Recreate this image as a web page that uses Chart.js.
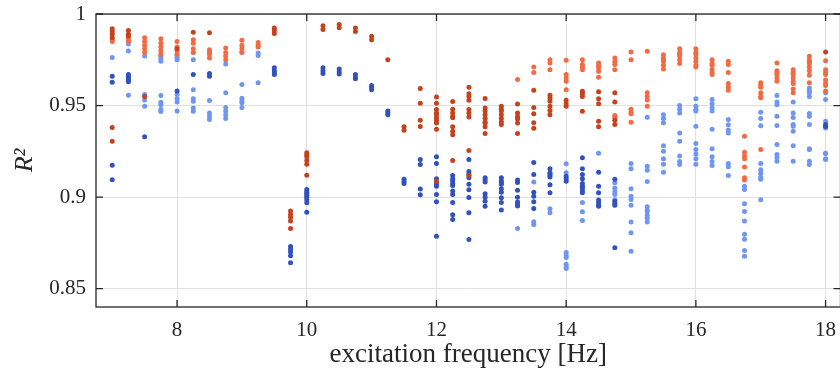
<!DOCTYPE html>
<html>
<head>
<meta charset="utf-8">
<script src="https://cdn.jsdelivr.net/npm/chart.js@4.4.0/dist/chart.umd.min.js"></script>
<style>
  html, body { margin: 0; padding: 0; background: #fff; overflow: hidden; }
  #wrap { width: 843px; height: 371px; }
</style>
</head>
<body>
<div id="wrap"><canvas id="chart"></canvas></div>
<script>
// tick labels
const xTicks = [8, 10, 12, 14, 16, 18];
const yTicks = [0.85, 0.9, 0.95, 1];

// each row: [frequency in Hz, R2 values...]
const darkRed = [
  [7, 0.992, 0.9905, 0.989, 0.987, 0.938, 0.9305],
  [7.25, 0.991, 0.989, 0.988],
  [7.5, 0.955],
  [8, 0.981],
  [8.25, 0.990],
  [8.5, 0.9898],
  [9.5, 0.9924, 0.991, 0.9893],
  [9.75, 0.8924, 0.8905, 0.889, 0.887, 0.8828],
  [10, 0.9242, 0.923, 0.922, 0.920, 0.918, 0.912],
  [10.25, 0.9936, 0.9915],
  [10.5, 0.9942, 0.9925],
  [10.75, 0.9924, 0.9905],
  [11, 0.9878, 0.986],
  [11.25, 0.975],
  [11.5, 0.9384, 0.9365],
  [11.75, 0.9593, 0.9513, 0.942, 0.9385],
  [12, 0.9547, 0.9513, 0.9478, 0.946, 0.945, 0.9433, 0.942, 0.9405, 0.937, 0.9087],
  [12.25, 0.9522, 0.948, 0.946, 0.944, 0.9433, 0.9384, 0.936, 0.934, 0.92],
  [12.5, 0.96, 0.9565, 0.955, 0.9529, 0.9478, 0.946, 0.9438, 0.9254, 0.9118],
  [12.75, 0.9538, 0.9487, 0.947, 0.945, 0.943, 0.941, 0.9405, 0.9384, 0.9347],
  [13, 0.9496, 0.948, 0.947, 0.945, 0.943, 0.941, 0.9396],
  [13.25, 0.9509, 0.946, 0.944, 0.9427, 0.9405, 0.9347],
  [13.5, 0.9584, 0.949, 0.9455, 0.9406, 0.9376],
  [13.75, 0.9556, 0.954, 0.9523, 0.9496, 0.9473, 0.945],
  [14, 0.9529, 0.951, 0.9496],
  [14.25, 0.9578, 0.9565, 0.955, 0.9469],
  [14.5, 0.9576, 0.9537, 0.951, 0.9414, 0.9384],
  [14.75, 0.957, 0.952, 0.942, 0.9396],
  [18, 0.9793]
];

const orange = [
  [7, 0.986, 0.985],
  [7.25, 0.987, 0.9855, 0.985],
  [7.5, 0.987, 0.985, 0.983, 0.981, 0.979],
  [7.75, 0.9865, 0.984, 0.982, 0.980, 0.978],
  [8, 0.985, 0.982, 0.980, 0.978],
  [8.25, 0.986, 0.984, 0.981, 0.979],
  [8.5, 0.9805, 0.979, 0.978, 0.976],
  [8.75, 0.9815, 0.979, 0.977, 0.975],
  [9, 0.9856, 0.983, 0.981, 0.979],
  [9.25, 0.9845, 0.983, 0.982],
  [13.25, 0.9643],
  [13.5, 0.971, 0.968],
  [13.75, 0.975, 0.9733, 0.9696],
  [14, 0.9747, 0.967, 0.965, 0.9633, 0.9587],
  [14.25, 0.975, 0.9724, 0.971, 0.9696],
  [14.5, 0.9733, 0.972, 0.9706, 0.9687, 0.9654],
  [14.75, 0.976, 0.974, 0.9724, 0.9696, 0.9446, 0.9435],
  [15, 0.9793, 0.975, 0.948, 0.9465, 0.9455, 0.9409],
  [15.25, 0.9796, 0.957, 0.955, 0.953, 0.9496],
  [15.5, 0.9778, 0.976, 0.975, 0.974, 0.972, 0.970],
  [15.75, 0.981, 0.979, 0.978, 0.977, 0.975, 0.973],
  [16, 0.981, 0.979, 0.978, 0.976, 0.974, 0.972, 0.971],
  [16.25, 0.975, 0.973, 0.972, 0.9697, 0.968, 0.967],
  [16.5, 0.9742, 0.9724, 0.968, 0.962, 0.960, 0.9584],
  [16.75, 0.9333, 0.9245, 0.9224, 0.921, 0.9164, 0.9106, 0.9093],
  [17, 0.9624, 0.961, 0.960, 0.957, 0.955, 0.9542, 0.926],
  [17.25, 0.9733, 0.969, 0.968, 0.967, 0.965, 0.9633],
  [17.5, 0.9696, 0.968, 0.967, 0.965, 0.963, 0.962, 0.959, 0.957],
  [17.75, 0.9769, 0.975, 0.974, 0.973, 0.971, 0.969, 0.9665, 0.9624],
  [18, 0.9745, 0.9696, 0.968, 0.967, 0.964, 0.962, 0.961, 0.958]
];

const darkBlue = [
  [7, 0.966, 0.9627, 0.9174, 0.9095],
  [7.25, 0.967, 0.966, 0.965, 0.964, 0.963],
  [7.5, 0.933],
  [8, 0.958],
  [8.25, 0.967],
  [8.5, 0.9675, 0.966],
  [9.5, 0.9706, 0.969, 0.968, 0.967],
  [9.75, 0.873, 0.8715, 0.870, 0.868, 0.8642],
  [10, 0.9042, 0.903, 0.902, 0.901, 0.900, 0.8985, 0.8969, 0.8918],
  [10.25, 0.9706, 0.969, 0.9675],
  [10.5, 0.970, 0.9685, 0.9673],
  [10.75, 0.967, 0.9655, 0.9646],
  [11, 0.961, 0.9598, 0.9587],
  [11.25, 0.947, 0.946, 0.945],
  [11.5, 0.9097, 0.9085, 0.9075],
  [11.75, 0.9206, 0.9178, 0.9044, 0.9013],
  [12, 0.922, 0.9184, 0.910, 0.908, 0.907, 0.906, 0.9015, 0.8975, 0.8787],
  [12.25, 0.9118, 0.910, 0.909, 0.9075, 0.9064, 0.9033, 0.9015, 0.8971, 0.8904, 0.8878],
  [12.5, 0.9206, 0.914, 0.9125, 0.9106, 0.907, 0.904, 0.8998, 0.8915, 0.8768],
  [12.75, 0.9106, 0.9095, 0.9082, 0.9018, 0.900, 0.8978, 0.895],
  [13, 0.9106, 0.909, 0.908, 0.907, 0.9046, 0.9027, 0.8997, 0.897, 0.893],
  [13.25, 0.9093, 0.908, 0.9038, 0.900, 0.8973, 0.896, 0.8951],
  [13.5, 0.9189, 0.9124, 0.9027, 0.9005, 0.8975, 0.8938],
  [13.75, 0.9155, 0.913, 0.912, 0.911, 0.9067, 0.9024],
  [14, 0.9114, 0.910, 0.9087],
  [14.25, 0.9215, 0.9155, 0.9124, 0.910, 0.9075, 0.906, 0.905, 0.9035, 0.9024],
  [14.5, 0.9136, 0.906, 0.9024, 0.8984, 0.897, 0.8955, 0.895],
  [14.75, 0.9097, 0.8978, 0.8965, 0.8955, 0.8724],
  [18, 0.9396, 0.9385]
];

const lightBlue = [
  [7, 0.9763],
  [7.25, 0.9836, 0.9798, 0.9556],
  [7.5, 0.977, 0.956, 0.953, 0.9496],
  [7.75, 0.9769, 0.9755, 0.9742, 0.9555, 0.9518, 0.9505, 0.9478, 0.9467],
  [8, 0.977, 0.976, 0.975, 0.956, 0.9537, 0.952, 0.947],
  [8.25, 0.979, 0.975, 0.9586, 0.9537, 0.9523, 0.9487, 0.9469],
  [8.5, 0.9527, 0.946, 0.944, 0.9424],
  [8.75, 0.9727, 0.957, 0.949, 0.947, 0.945, 0.943],
  [9, 0.9793, 0.9615, 0.954, 0.9525, 0.9515, 0.949],
  [9.25, 0.9787, 0.9774, 0.9624],
  [13.25, 0.8828],
  [13.5, 0.9082, 0.8866, 0.885],
  [13.75, 0.9133, 0.8937, 0.8915],
  [14, 0.9182, 0.9133, 0.8697, 0.868, 0.867, 0.8633, 0.862, 0.861],
  [14.25, 0.897, 0.892, 0.8873],
  [14.5, 0.924],
  [14.75, 0.9078, 0.905, 0.903, 0.9015, 0.8985],
  [15, 0.9184, 0.9155, 0.9046, 0.9005, 0.8987, 0.8955, 0.8864, 0.8806, 0.8704],
  [15.25, 0.9436, 0.9169, 0.9147, 0.9086, 0.8948, 0.893, 0.892, 0.890, 0.8885, 0.8864],
  [15.5, 0.945, 0.943, 0.9406, 0.928, 0.925, 0.921, 0.918, 0.9136],
  [15.75, 0.95, 0.948, 0.946, 0.935, 0.9305, 0.9224, 0.9195, 0.9178],
  [16, 0.9537, 0.9496, 0.948, 0.947, 0.9387, 0.9293, 0.926, 0.9235, 0.921, 0.918],
  [16.25, 0.9533, 0.951, 0.9487, 0.947, 0.937, 0.9264, 0.922, 0.9195, 0.9173],
  [16.5, 0.9424, 0.9395, 0.9367, 0.935, 0.9184, 0.9166, 0.9118],
  [16.75, 0.906, 0.9042, 0.8964, 0.8922, 0.887, 0.8797, 0.877, 0.8709, 0.8677],
  [17, 0.9463, 0.943, 0.939, 0.9184, 0.915, 0.913, 0.911, 0.9097, 0.8986],
  [17.25, 0.9555, 0.952, 0.9505, 0.9442, 0.9391, 0.9287, 0.9233, 0.9215, 0.9196],
  [17.5, 0.952, 0.946, 0.9435, 0.9396, 0.9387, 0.936, 0.928, 0.9196],
  [17.75, 0.9596, 0.958, 0.957, 0.955, 0.9456, 0.9442, 0.9396, 0.9264, 0.926, 0.9196, 0.9178],
  [18, 0.957, 0.9533, 0.9414, 0.9378, 0.9238, 0.9206, 0.924, 0.921]
];

function toPoints(rows) {
  return rows.flatMap(([f, ...vals]) => vals.map(v => ({ x: f, y: v })));
}

function dots(data, color) {
  return {
    data: toPoints(data),
    backgroundColor: color,
    borderWidth: 0,
    pointRadius: 2.5,
    pointHoverRadius: 2.5
  };
}

const serif = "'Liberation Serif', 'DejaVu Serif', serif";

// box with inward ticks, like the matlab axes
const axesBox = {
  id: 'axesBox',
  afterDatasetsDraw(chart) {
    const { ctx, chartArea: a, scales: { x, y } } = chart;
    ctx.save();
    ctx.strokeStyle = '#262626';
    ctx.lineWidth = 1.3;
    ctx.strokeRect(a.left, a.top, a.right - a.left, a.bottom - a.top);
    ctx.beginPath();
    xTicks.forEach(t => {
      const px = x.getPixelForValue(t);
      ctx.moveTo(px, a.bottom); ctx.lineTo(px, a.bottom - 7);
      ctx.moveTo(px, a.top); ctx.lineTo(px, a.top + 7);
    });
    yTicks.forEach(t => {
      const py = y.getPixelForValue(t);
      ctx.moveTo(a.left, py); ctx.lineTo(a.left + 7, py);
      ctx.moveTo(a.right, py); ctx.lineTo(a.right - 7, py);
    });
    ctx.stroke();
    ctx.restore();
  }
};

new Chart(document.getElementById('chart'), {
  type: 'scatter',
  data: {
    datasets: [
      dots(darkRed, '#c4431d'),
      dots(darkBlue, '#3152bd'),
      dots(orange, '#f26b42'),
      dots(lightBlue, '#6f96f2')
    ]
  },
  options: {
    responsive: true,
    maintainAspectRatio: false,
    animation: false,
    events: [],
    layout: { padding: { left: 0, right: 1, top: 14, bottom: 0 } },
    plugins: {
      legend: { display: false },
      tooltip: { enabled: false }
    },
    scales: {
      x: {
        type: 'linear',
        min: 6.75,
        max: 18.23,
        afterBuildTicks: s => { s.ticks = xTicks.map(v => ({ value: v })); },
        afterFit: s => { s.height = 64; s.paddingLeft = 0; s.paddingRight = 0; },
        grid: { color: '#e0e0e0', lineWidth: 1, drawTicks: false },
        border: { display: false },
        ticks: {
          padding: 11,
          color: '#262626',
          font: { family: serif, size: 21 },
          maxRotation: 0
        },
        title: {
          display: true,
          text: 'excitation frequency [Hz]',
          color: '#262626',
          font: { family: serif, size: 27 },
          padding: { top: 0, bottom: 0 }
        }
      },
      y: {
        min: 0.84,
        max: 1,
        afterBuildTicks: s => { s.ticks = yTicks.map(v => ({ value: v })); },
        afterFit: s => { s.width = 96; s.paddingTop = 0; s.paddingBottom = 0; },
        grid: { color: '#e0e0e0', lineWidth: 1, drawTicks: false },
        border: { display: false },
        ticks: {
          padding: 10,
          color: '#262626',
          font: { family: serif, size: 21 },
          callback: v => String(v)
        },
        title: {
          display: true,
          text: 'R²',
          color: '#262626',
          font: { family: serif, size: 26, style: 'italic' },
          padding: { top: 10, bottom: 0 }
        }
      }
    }
  },
  plugins: [axesBox]
});
</script>
</body>
</html>
